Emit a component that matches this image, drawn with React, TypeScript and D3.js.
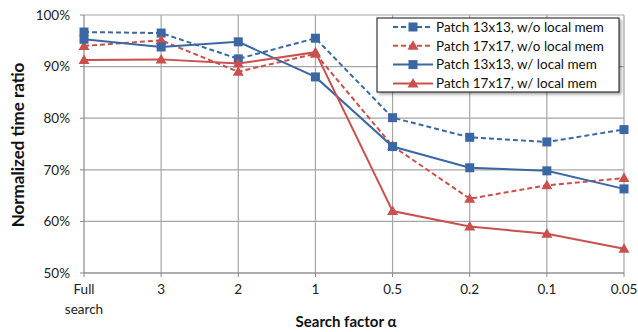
import { scaleLinear, scalePoint, line } from 'd3';

const categories = ['Full search', '3', '2', '1', '0.5', '0.2', '0.1', '0.05'];
const yTicks = [50, 60, 70, 80, 90, 100];

const blueWoLocal = [96.7, 96.5, 91.5, 95.5, 80.1, 76.3, 75.4, 77.8];
const redWoLocal = [94.0, 95.1, 89.0, 92.5, 74.6, 64.4, 67.0, 68.4];
const blueLocal = [95.3, 93.8, 94.8, 88.0, 74.5, 70.4, 69.8, 66.3];
const redLocal = [91.3, 91.4, 90.6, 92.8, 62.0, 59.0, 57.6, 54.7];

const seriesNames = [
  'Patch 13x13, w/o local mem',
  'Patch 17x17, w/o local mem',
  'Patch 13x13, w/ local mem',
  'Patch 17x17, w/ local mem',
];

const BLUE = '#3B67A4';
const RED = '#C9504C';
const FONT = 'Lato, "Open Sans", sans-serif';

const width = 638;
const height = 332;
const margin = { top: 15, right: 14, bottom: 59, left: 84 };

function Marker({ x, y, kind, color }: { x: number; y: number; kind: string; color: string }) {
  if (kind === 'square') {
    return <rect x={x - 4.5} y={y - 4.5} width={9} height={9} fill={color} />;
  }
  return <path d={`M${x},${y - 5.5}L${x + 5.5},${y + 4}L${x - 5.5},${y + 4}Z`} fill={color} />;
}

function App() {
  const innerWidth = width - margin.left - margin.right;
  const innerHeight = height - margin.top - margin.bottom;

  const xScale = scalePoint<string>().domain(categories).range([0, innerWidth]);
  const yScale = scaleLinear().domain([50, 100]).range([innerHeight, 0]);

  const series = [
    { name: seriesNames[0], values: blueWoLocal, color: BLUE, dash: '5,3', kind: 'square' },
    { name: seriesNames[1], values: redWoLocal, color: RED, dash: '5,3', kind: 'triangle' },
    { name: seriesNames[2], values: blueLocal, color: BLUE, dash: 'none', kind: 'square' },
    { name: seriesNames[3], values: redLocal, color: RED, dash: 'none', kind: 'triangle' },
  ];

  const lineGen = line<number>()
    .x((_, i) => xScale(categories[i]) as number)
    .y(d => yScale(d));

  const legendX = 377 - margin.left;
  const legendY = 18 - margin.top;

  return (
    <svg width={width} height={height} style={{ position: 'absolute', left: 0, top: 0, background: '#fff' }}>
      <defs>
        <filter id="shadow" x="-10%" y="-10%" width="130%" height="140%">
          <feDropShadow dx="2" dy="2" stdDeviation="1.5" floodColor="#000" floodOpacity="0.35" />
        </filter>
      </defs>
      <g transform={`translate(${margin.left}, ${margin.top})`} fontFamily={FONT}>
        {yTicks.map(t => (
          <g key={t} transform={`translate(0, ${yScale(t)})`}>
            <line x2={innerWidth} stroke="#a6a6a6" strokeWidth={1.2} />
            <line x1={-4} x2={0} stroke="#888" />
            <text x={-14} dy=".35em" textAnchor="end" fontSize={13.5} fill="#222">{t}%</text>
          </g>
        ))}
        {categories.map((c, i) => {
          const lines = c === 'Full search' ? ['Full', 'search'] : [c];
          return (
            <g key={c} transform={`translate(${xScale(c)}, 0)`}>
              {i > 0 && <line y2={innerHeight} stroke="#a6a6a6" strokeWidth={1.2} />}
              <line y1={innerHeight} y2={innerHeight + 4} stroke="#888" />
              {lines.map((l, j) => (
                <text key={l} y={innerHeight + 21 + j * 20} textAnchor="middle" fontSize={13.5} fill="#222">{l}</text>
              ))}
            </g>
          );
        })}
        <line y2={innerHeight} stroke="#888" strokeWidth={1.2} />
        <line y1={innerHeight} y2={innerHeight} x2={innerWidth} stroke="#888" strokeWidth={1.2} />

        {series.map(s => (
          <g key={s.name}>
            <path d={lineGen(s.values) || ''} fill="none" stroke={s.color} strokeWidth={2} strokeDasharray={s.dash} />
            {s.values.map((v, i) => (
              <Marker key={i} x={xScale(categories[i]) as number} y={yScale(v)} kind={s.kind} color={s.color} />
            ))}
          </g>
        ))}

        <g transform={`translate(${legendX}, ${legendY})`}>
          <rect width={242} height={74} fill="#fff" stroke="#111" strokeWidth={1} filter="url(#shadow)" />
          {series.map((s, i) => (
            <g key={s.name} transform={`translate(0, ${9 + i * 18.8})`}>
              <line x1={16} x2={56} stroke={s.color} strokeWidth={2} strokeDasharray={s.dash} />
              <Marker x={36} y={0} kind={s.kind} color={s.color} />
              <text x={59} dy=".35em" fontSize={13.5} fill="#111">{s.name}</text>
            </g>
          ))}
        </g>

        <text x={innerWidth / 2 - 8} y={innerHeight + 54} textAnchor="middle" fontSize={15} fontWeight="bold" fill="#111">
          Search factor α
        </text>
        <text transform={`translate(${-60}, ${innerHeight / 2 + 1}) rotate(-90)`} textAnchor="middle" fontSize={17} fontWeight="bold" fill="#111">
          Normalized time ratio
        </text>
      </g>
    </svg>
  );
}

export default App;
